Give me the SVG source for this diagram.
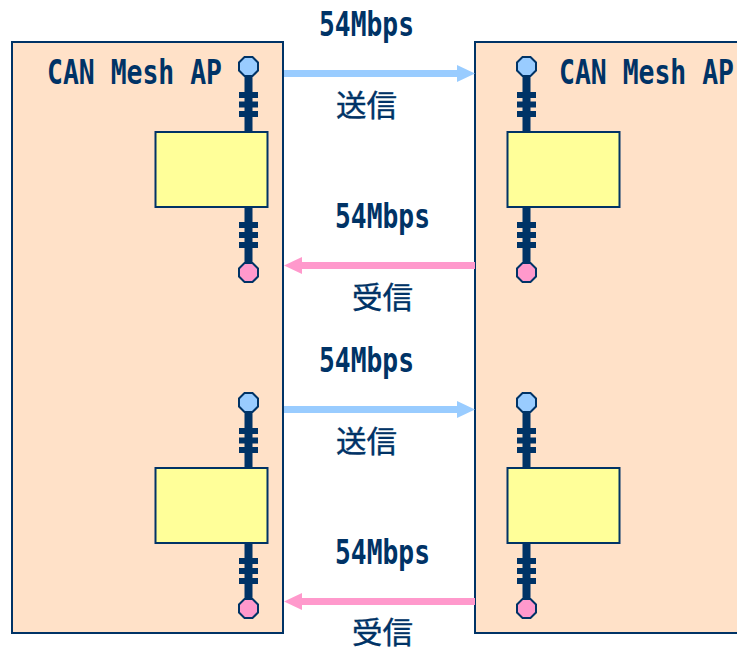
<svg xmlns="http://www.w3.org/2000/svg" xmlns:xlink="http://www.w3.org/1999/xlink" width="737" height="648" viewBox="0 0 737 648">
<style>
.ap{fill:#FFE1C8;stroke:#003366;stroke-width:2}
.box{fill:#FFFF99;stroke:#003366;stroke-width:2}
.rod{fill:#003366;stroke:none}
.head{stroke:#003366;stroke-width:2}
.t{font-family:"DejaVu Sans Mono","Noto Sans CJK JP",monospace;font-size:33px;fill:#003366;font-weight:700}
.j{font-family:"Noto Sans CJK JP",sans-serif;font-size:30px;fill:#003366;stroke:#003366;stroke-width:.4}
.blue{stroke:#99CCFF;stroke-width:7;fill:none}
.pink{stroke:#FF99CC;stroke-width:7;fill:none}
</style>
<defs>
<g id="radio">
<rect class="box" x="0" y="0" width="112" height="75"/>
</g>
<g id="ant-top">
<rect class="rod" x="-4" y="-58" width="8" height="58"/>
<rect class="rod" x="-9.500" y="-40" width="19" height="6"/>
<rect class="rod" x="-9.500" y="-30.500" width="19" height="6"/>
<rect class="rod" x="-9.500" y="-21" width="19" height="6"/>
<polygon class="head" fill="#99CCFF" points="-4,-75 4,-75 9.500,-69.500 9.500,-61.500 4,-56 -4,-56 -9.500,-61.500 -9.500,-69.500"/>
</g>
<g id="ant-bot">
<rect class="rod" x="-4" y="0" width="8" height="58"/>
<rect class="rod" x="-9.500" y="15" width="19" height="6"/>
<rect class="rod" x="-9.500" y="25" width="19" height="6"/>
<rect class="rod" x="-9.500" y="35" width="19" height="6"/>
<polygon class="head" fill="#FF99CC" points="-4,56 4,56 9.500,61.500 9.500,69.500 4,75 -4,75 -9.500,69.500 -9.500,61.500"/>
</g>
<marker id="ab" markerUnits="userSpaceOnUse" markerWidth="18" markerHeight="18" refX="10" refY="9" orient="auto"><path d="M0,0.500L18,9L0,17.500z" fill="#99CCFF"/></marker>
<marker id="ap" markerUnits="userSpaceOnUse" markerWidth="18" markerHeight="18" refX="10" refY="9" orient="auto"><path d="M0,0.500L18,9L0,17.500z" fill="#FF99CC"/></marker>
</defs>
<g id="ap-left"><rect class="ap" x="12" y="42" width="271" height="591"/><text class="t" x="47" y="84" textLength="175" lengthAdjust="spacingAndGlyphs">CAN Mesh AP</text></g>
<g id="ap-right"><rect class="ap" x="475" y="42" width="272" height="591"/><text class="t" x="559" y="84" textLength="175" lengthAdjust="spacingAndGlyphs">CAN Mesh AP</text></g>
<g id="radio-1"><use xlink:href="#ant-top" x="248.500" y="132"/><use xlink:href="#ant-bot" x="248.500" y="207"/><use xlink:href="#radio" x="155.500" y="132"/></g>
<g id="radio-2"><use xlink:href="#ant-top" x="526.500" y="132"/><use xlink:href="#ant-bot" x="526.500" y="207"/><use xlink:href="#radio" x="507.500" y="132"/></g>
<g id="radio-3"><use xlink:href="#ant-top" x="248.500" y="468"/><use xlink:href="#ant-bot" x="248.500" y="543"/><use xlink:href="#radio" x="155.500" y="468"/></g>
<g id="radio-4"><use xlink:href="#ant-top" x="526.500" y="468"/><use xlink:href="#ant-bot" x="526.500" y="543"/><use xlink:href="#radio" x="507.500" y="468"/></g>
<g id="connectors">
<path class="blue" d="M284,73.500H467" marker-end="url(#ab)"/>
<path class="pink" d="M475,265.500H292" marker-end="url(#ap)"/>
<path class="blue" d="M284,409.500H467" marker-end="url(#ab)"/>
<path class="pink" d="M475,601.500H292" marker-end="url(#ap)"/>
</g>
<g id="labels">
<text class="t" x="319" y="36" textLength="95" lengthAdjust="spacingAndGlyphs">54Mbps</text>
<text class="j" x="336" y="116" textLength="61" lengthAdjust="spacingAndGlyphs">送信</text>
<text class="t" x="335" y="228" textLength="95" lengthAdjust="spacingAndGlyphs">54Mbps</text>
<text class="j" x="352" y="308" textLength="61" lengthAdjust="spacingAndGlyphs">受信</text>
<text class="t" x="319" y="372" textLength="95" lengthAdjust="spacingAndGlyphs">54Mbps</text>
<text class="j" x="336" y="452" textLength="61" lengthAdjust="spacingAndGlyphs">送信</text>
<text class="t" x="335" y="564" textLength="95" lengthAdjust="spacingAndGlyphs">54Mbps</text>
<text class="j" x="352" y="643" textLength="61" lengthAdjust="spacingAndGlyphs">受信</text>
</g>
</svg>
